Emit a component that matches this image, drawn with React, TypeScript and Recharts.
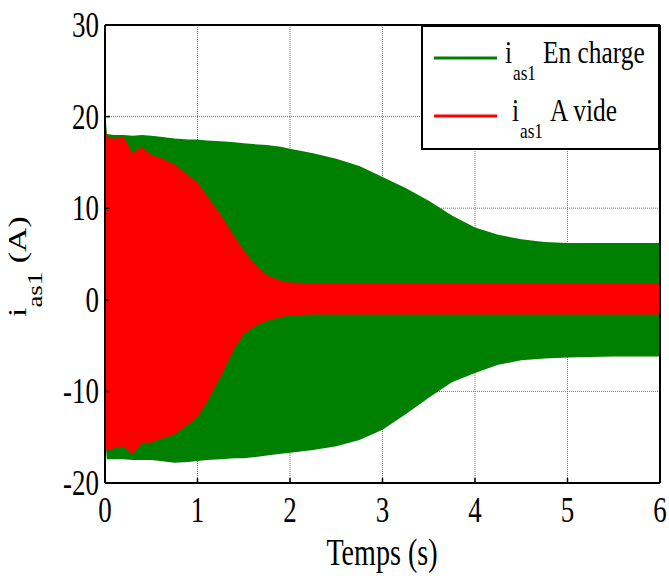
import React from 'react';
import { ComposedChart, Area, XAxis, YAxis, CartesianGrid, Legend, Label } from 'recharts';

// Time samples (s)
const time = [0, 0.02, 0.1, 0.2, 0.3, 0.4, 0.5, 0.6, 0.75, 0.9, 1.0, 1.1, 1.25, 1.4, 1.5, 1.6, 1.75, 1.9, 2.0, 2.25, 2.5, 2.75, 3.0, 3.25, 3.5, 3.75, 4.0, 4.25, 4.5, 4.75, 5.0, 5.5, 6.0];

// Envelope of i_as1 under load (En charge)
const greenUpper = [21, 18.1, 18.0, 18.0, 17.9, 18.0, 17.9, 17.8, 17.6, 17.5, 17.5, 17.4, 17.3, 17.2, 17.1, 17.0, 16.9, 16.7, 16.5, 16.0, 15.4, 14.6, 13.4, 12.2, 10.8, 9.2, 7.9, 7.1, 6.6, 6.3, 6.2, 6.2, 6.2];
const greenLower = [-15, -17.4, -17.4, -17.4, -17.5, -17.5, -17.5, -17.6, -17.8, -17.7, -17.6, -17.5, -17.4, -17.3, -17.3, -17.2, -17.0, -16.8, -16.7, -16.4, -16.0, -15.3, -14.2, -12.5, -10.7, -9.0, -8.0, -7.1, -6.6, -6.4, -6.3, -6.2, -6.2];

// Envelope of i_as1 no load (A vide)
const redUpper = [20, 17.7, 17.6, 17.8, 16.0, 16.7, 15.8, 15.5, 14.8, 13.6, 12.8, 11.4, 9.3, 6.9, 5.4, 4.1, 2.7, 2.1, 1.9, 1.8, 1.8, 1.8, 1.8, 1.8, 1.8, 1.8, 1.8, 1.8, 1.8, 1.8, 1.8, 1.8, 1.8];
const redLower = [-16, -16.5, -16.2, -16.0, -16.9, -15.6, -15.6, -15.2, -14.7, -13.6, -12.8, -11.2, -8.4, -5.3, -3.8, -3.0, -2.3, -1.9, -1.7, -1.6, -1.6, -1.6, -1.6, -1.6, -1.6, -1.6, -1.6, -1.6, -1.6, -1.6, -1.6, -1.6, -1.6];

const xTicks = [0, 1, 2, 3, 4, 5, 6];
const yTicks = [-20, -10, 0, 10, 20, 30];

const legendLabels = [
  { main: 'i', sub: 'as1', rest: 'En charge', color: '#008000' },
  { main: 'i', sub: 'as1', rest: 'A vide', color: '#ff0000' },
];

const data = time.map((t, i) => ({
  t,
  green: [greenLower[i], greenUpper[i]],
  red: [redLower[i], redUpper[i]],
}));

const FONT = 'Liberation Serif';
const txt = { fontFamily: FONT } as React.CSSProperties;

const XTick = (props: any) => {
  const { x, y, payload } = props;
  return (
    <text transform={`translate(${x},${y + 44}) scale(0.77,1)`} textAnchor="middle" style={txt} fontSize={35} fill="#000">
      {payload.value}
    </text>
  );
};

const YTick = (props: any) => {
  const { x, y, payload } = props;
  return (
    <text transform={`translate(${x - 11},${y + 12}) scale(0.77,1)`} textAnchor="end" style={txt} fontSize={35} fill="#000">
      {payload.value}
    </text>
  );
};

const XLabel = () => (
  <text transform="translate(382,565) scale(0.74,1)" textAnchor="middle" style={txt} fontSize={38} fill="#000">
    Temps (s)
  </text>
);

const YLabel = () => (
  <text transform="translate(26,317) rotate(-90) scale(1.35,1)" style={txt} fontSize={25} fill="#000">
    <tspan>i</tspan>
    <tspan dy={16} fontSize={20}>as1</tspan>
    <tspan dy={-16}> (A)</tspan>
  </text>
);

const LegendBox = () => (
  <svg width={239} height={125} style={{ display: 'block' }}>
    <rect x={1} y={1} width={237} height={123} fill="#fff" stroke="#000" strokeWidth={2} />
    {legendLabels.map((l, i) => {
      const cy = 33 + i * 58;
      const ix = 84 + i * 7;
      return (
        <g key={i}>
          <line x1={13} x2={76} y1={cy} y2={cy} stroke={l.color} strokeWidth={3} />
          <text transform={`translate(${ix},${cy + 5}) scale(0.82,1)`} style={txt} fontSize={31} fill="#000">{l.main}</text>
          <text transform={`translate(${ix + 8},${cy + 22}) scale(0.82,1)`} style={txt} fontSize={21} fill="#000">{l.sub}</text>
          <text transform={`translate(${ix + 38},${cy + 5}) scale(0.82,1)`} style={txt} fontSize={31} fill="#000">{l.rest}</text>
        </g>
      );
    })}
  </svg>
);

export default function App() {
  return (
    <div style={{ position: 'absolute', left: 0, top: 0, width: 669, height: 576, background: '#fff' }}>
      <ComposedChart width={669} height={576} data={data} margin={{ top: 25, right: 9, bottom: 93, left: 105 }}>
        <CartesianGrid stroke="#777" strokeDasharray="1 1" strokeWidth={1} horizontalValues={yTicks} verticalValues={xTicks} />
        <XAxis
          dataKey="t"
          type="number"
          domain={[0, 6]}
          ticks={xTicks}
          mirror
          tickSize={5}
          tickMargin={0}
          tick={<XTick />}
          axisLine={{ stroke: '#000', strokeWidth: 2 }}
          tickLine={{ stroke: '#000', strokeWidth: 1.5 }}
          allowDataOverflow
        >
          <Label content={<XLabel />} />
        </XAxis>
        <XAxis
          xAxisId="top"
          orientation="top"
          dataKey="t"
          type="number"
          domain={[0, 6]}
          ticks={xTicks}
          mirror
          tickSize={5}
          tick={false}
          axisLine={{ stroke: '#000', strokeWidth: 2 }}
          tickLine={{ stroke: '#000', strokeWidth: 1.5 }}
        />
        <YAxis
          type="number"
          domain={[-20, 30]}
          ticks={yTicks}
          mirror
          tickSize={5}
          tickMargin={0}
          tick={<YTick />}
          axisLine={{ stroke: '#000', strokeWidth: 2 }}
          tickLine={{ stroke: '#000', strokeWidth: 1.5 }}
          allowDataOverflow
        >
          <Label content={<YLabel />} />
        </YAxis>
        <YAxis
          yAxisId="right"
          orientation="right"
          type="number"
          domain={[-20, 30]}
          ticks={yTicks}
          mirror
          tickSize={5}
          tick={false}
          axisLine={{ stroke: '#000', strokeWidth: 2 }}
          tickLine={{ stroke: '#000', strokeWidth: 1.5 }}
        />
        <Area type="linear" dataKey="green" name="i_as1 En charge" fill="#008000" fillOpacity={1} stroke="none" isAnimationActive={false} />
        <Area type="linear" dataKey="red" name="i_as1 A vide" fill="#ff0000" fillOpacity={1} stroke="none" isAnimationActive={false} />
        <Legend
          layout="horizontal"
          verticalAlign="middle"
          align="center"
          wrapperStyle={{ left: 421, top: 25, width: 239, height: 125 }}
          content={<LegendBox />}
        />
      </ComposedChart>
    </div>
  );
}
